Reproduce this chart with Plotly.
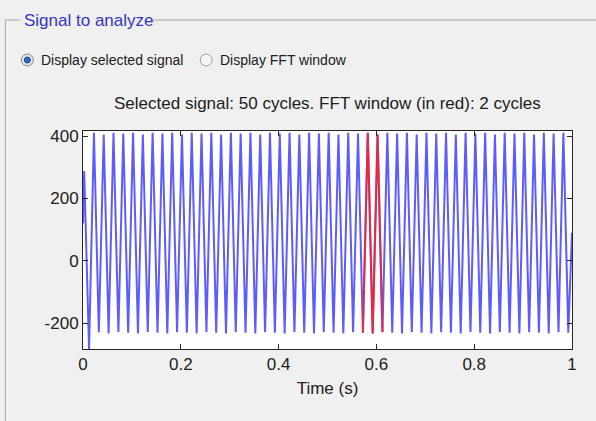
import plotly.graph_objects as go

# Signal: one peak and one trough per cycle
SIGNAL_FREQ = 50          # Hz, "50 cycles" in 1 s
PEAK_PHASE = 0.12         # position of the peak inside each cycle
START_VALUE = 120
END_VALUE = 90
cycle_peaks = [288, 410, 405, 410, 408, 410, 405, 410, 408, 410,
               405, 410, 408, 410, 405, 410, 408, 410, 405, 410,
               408, 410, 405, 410, 408, 410, 405, 410, 408, 410,
               405, 410, 408, 410, 405, 410, 408, 410, 405, 410,
               408, 410, 405, 410, 408, 410, 405, 410, 408, 410]
cycle_troughs = [-282, -228, -232, -228, -230, -232, -228, -230, -232, -228,
                 -230, -232, -228, -230, -232, -228, -230, -232, -228, -230,
                 -232, -228, -230, -232, -228, -230, -232, -228, -230, -232,
                 -228, -230, -232, -228, -230, -232, -228, -230, -232, -228,
                 -230, -232, -228, -230, -232, -228, -230, -232, -228, -230]
FFT_START = 0.572
FFT_END = 0.613

x_ticks = [0, 0.2, 0.4, 0.6, 0.8, 1]
y_ticks = [-200, 0, 200, 400]
Y_RANGE = [-282, 416]

W, H = 596, 421
L, R, T, B = 82.7, 572, 131, 349
FONT = "Liberation Sans, Arial, sans-serif"
BLUE = "rgba(30,30,255,0.72)"
RED = "rgba(255,30,30,0.85)"
BG = "#f0f0f0"
FRAME = "#a8a8a8"


def px(x):
    return (x - L) / (R - L)


def py(y):
    return (B - y) / (B - T)


t, v = [0.0], [START_VALUE]
for k, (pk, tr) in enumerate(zip(cycle_peaks, cycle_troughs)):
    t += [(k + PEAK_PHASE) / SIGNAL_FREQ, (k + PEAK_PHASE + 0.5) / SIGNAL_FREQ]
    v += [pk, tr]
t.append(1.0)
v.append(END_VALUE)

win = [(ti, vi) for ti, vi in zip(t, v) if FFT_START - 1e-3 <= ti <= FFT_END + 1e-3]

fig = go.Figure()
fig.add_trace(go.Scatter(x=t, y=v, mode="lines", line=dict(color=BLUE, width=2),
                         hoverinfo="skip", showlegend=False))
fig.add_trace(go.Scatter(x=[p[0] for p in win], y=[p[1] for p in win], mode="lines",
                         line=dict(color=RED, width=2), hoverinfo="skip", showlegend=False))

shapes = [
    # panel frame
    dict(type="line", xref="paper", yref="paper", x0=px(5), x1=px(20), y0=py(20), y1=py(20),
         line=dict(color=FRAME, width=1)),
    dict(type="line", xref="paper", yref="paper", x0=px(152), x1=px(600), y0=py(20), y1=py(20),
         line=dict(color=FRAME, width=1)),
    dict(type="line", xref="paper", yref="paper", x0=px(5), x1=px(5), y0=py(20), y1=py(425),
         line=dict(color=FRAME, width=1)),
    # radio buttons
    dict(type="circle", xref="paper", yref="paper", x0=px(21), x1=px(33), y0=py(54), y1=py(66),
         fillcolor="#e4e4e4", line=dict(color="#8a8a8a", width=1)),
    dict(type="circle", xref="paper", yref="paper", x0=px(24), x1=px(30), y0=py(57), y1=py(63),
         fillcolor="#2a6fc0", line=dict(color="#1a4f90", width=1)),
    dict(type="circle", xref="paper", yref="paper", x0=px(200), x1=px(212), y0=py(54), y1=py(66),
         fillcolor="#f4f4f4", line=dict(color="#a0a0a0", width=1)),
]

annotations = [
    dict(text="Signal to analyze", x=px(22), y=py(20), xref="paper", yref="paper",
         xanchor="left", yanchor="middle", showarrow=False,
         font=dict(family=FONT, size=17, color="#3434c4")),
    dict(text="Display selected signal", x=px(39), y=py(60), xref="paper", yref="paper",
         xanchor="left", yanchor="middle", showarrow=False,
         font=dict(family=FONT, size=14, color="#202020")),
    dict(text="Display FFT window", x=px(218), y=py(60), xref="paper", yref="paper",
         xanchor="left", yanchor="middle", showarrow=False,
         font=dict(family=FONT, size=14, color="#202020")),
    dict(text="Selected signal: 50 cycles. FFT window (in red): 2 cycles", x=0.5, y=py(103),
         xref="paper", yref="paper", xanchor="center", yanchor="middle", showarrow=False,
         font=dict(family=FONT, size=17, color="#202020")),
]

fig.update_layout(
    width=W, height=H,
    margin=dict(l=L, r=W - R, t=T, b=H - B),
    paper_bgcolor=BG, plot_bgcolor="#ffffff",
    font=dict(family=FONT, size=17, color="#202020"),
    shapes=shapes, annotations=annotations,
)
fig.update_xaxes(range=[0, 1], tickvals=x_ticks, ticktext=[f"{x:g}" for x in x_ticks],
                 ticks="inside", ticklen=5, tickcolor="#262626", showgrid=False, zeroline=False,
                 showline=True, linecolor="#262626", linewidth=1, mirror="ticks",
                 title=dict(text="Time (s)", standoff=8, font=dict(size=17)))
fig.update_yaxes(range=Y_RANGE, tickvals=y_ticks, ticktext=[str(y) for y in y_ticks],
                 ticks="inside", ticklen=5, tickcolor="#262626",
                 showgrid=False, zeroline=False, showline=True, linecolor="#262626", linewidth=1,
                 mirror="ticks")

fig.write_html("out.html", config={"displayModeBar": False},
               post_script="document.body.style.margin='0';document.body.style.background='#f0f0f0';")
